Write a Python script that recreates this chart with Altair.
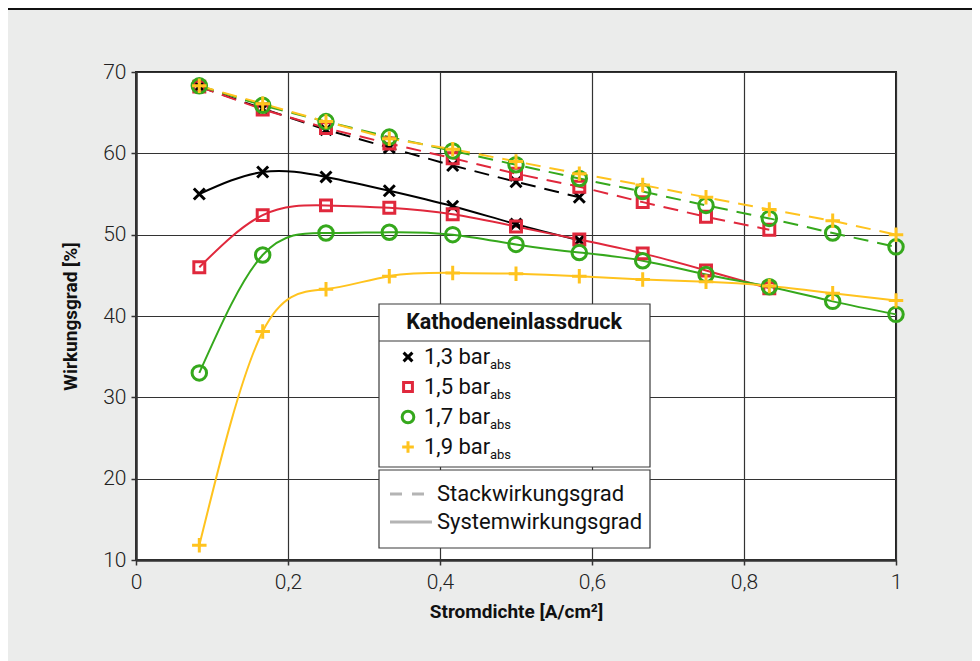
import altair as alt
import pandas as pd

# ---------------- data ----------------
x_vals = [0.0833, 0.1667, 0.25, 0.3333, 0.4167, 0.5, 0.5833, 0.6667, 0.75, 0.8333, 0.9167, 1.0]

series = ["1,3", "1,5", "1,7", "1,9"]
colors = ["#000000", "#e0283c", "#35a81c", "#ffc31e"]

sys_13 = [55.0, 57.7, 57.1, 55.4, 53.5, 51.3, 49.3]
stack_13 = [68.2, 65.5, 62.9, 60.7, 58.5, 56.5, 54.6]
sys_15 = [46.0, 52.4, 53.6, 53.3, 52.5, 51.0, 49.4, 47.7, 45.6, 43.4]
stack_15 = [68.2, 65.4, 63.1, 61.2, 59.4, 57.5, 55.9, 54.0, 52.2, 50.6]
sys_17 = [33.0, 47.5, 50.2, 50.3, 50.0, 48.8, 47.8, 46.8, 45.1, 43.6, 41.8, 40.2]
stack_17 = [68.3, 65.9, 63.9, 62.0, 60.3, 58.6, 56.9, 55.3, 53.6, 52.0, 50.2, 48.5]
sys_19 = [11.8, 38.1, 43.3, 44.9, 45.3, 45.2, 44.9, 44.5, 44.2, 43.7, 42.8, 41.9]
stack_19 = [68.3, 66.1, 63.9, 61.8, 60.5, 59.0, 57.5, 56.1, 54.6, 53.1, 51.7, 50.0]

sys_all = [sys_13, sys_15, sys_17, sys_19]
stack_all = [stack_13, stack_15, stack_17, stack_19]

rows = []
for i, s in enumerate(series):
    for j, v in enumerate(sys_all[i]):
        rows.append({"x": x_vals[j], "y": v, "s": s, "kind": "System", "o": i})
    for j, v in enumerate(stack_all[i]):
        rows.append({"x": x_vals[j], "y": v, "s": s, "kind": "Stack", "o": i})
df = pd.DataFrame(rows)

X_CROSS = "M-1,-1L1,1M1,-1L-1,1"
PLUS = "M-1,0L1,0M0,-1L0,1"
shapes = [X_CROSS, "square", "circle", PLUS]
sizes = [120, 120, 210, 210]

FONT = "Roboto, sans-serif"
LFONT = "Roboto, sans-serif"

xs = alt.Scale(domain=[0, 1], nice=False)
ys = alt.Scale(domain=[10, 70], nice=False)
col = alt.Color("s:N", scale=alt.Scale(domain=series, range=colors), legend=None)

X = alt.X("x:Q", scale=xs, title="Stromdichte [A/cm²]",
          axis=alt.Axis(values=[0, 0.2, 0.4, 0.6, 0.8, 1.0],
                        labelExpr="replace(format(datum.value, '~g'), '.', ',')"))
Y = alt.Y("y:Q", scale=ys, title="Wirkungsgrad [%]",
          axis=alt.Axis(values=[10, 20, 30, 40, 50, 60, 70]))

base = alt.Chart(df)

layers = []
for i, s in enumerate(series):
    d_sys = base.transform_filter(f"datum.s == '{s}' && datum.kind == 'System'")
    d_st = base.transform_filter(f"datum.s == '{s}' && datum.kind == 'Stack'")
    layers.append(d_st.mark_line(strokeWidth=2, strokeDash=[15, 9], interpolate="linear")
                  .encode(x=X, y=Y, color=col))
    layers.append(d_sys.mark_line(strokeWidth=2, interpolate="natural")
                  .encode(x=X, y=Y, color=col))
for i, s in enumerate(series):
    d_pts = base.transform_filter(f"datum.s == '{s}'")
    layers.append(d_pts.mark_point(shape=shapes[i], size=sizes[i], filled=False,
                                   strokeWidth=3, opacity=1)
                  .encode(x=X, y=Y, color=col))

# ---------------- legend (annotation, pixel positions) ----------------
one = pd.DataFrame({"a": [0]})
lb = alt.Chart(one)

def box(x1, x2, y1, y2):
    return lb.mark_rect(fill="white", stroke="#3a3a3a", strokeWidth=1.2).encode(
        x=alt.value(x1), x2=alt.value(x2), y=alt.value(y1), y2=alt.value(y2))

legend_layers = [
    box(243, 514, 232, 395),
    lb.mark_rule(color="#3a3a3a", strokeWidth=1.2).encode(
        x=alt.value(243), x2=alt.value(514), y=alt.value(269)),
    lb.mark_text(text="Kathodeneinlassdruck", font=FONT, fontWeight="bold",
                 fontSize=21.5, align="center", baseline="middle", color="#111").encode(
        x=alt.value(378), y=alt.value(251)),
    box(243, 514, 398, 476),
]
leg_y = [285, 315, 345, 375]
for i, s in enumerate(series):
    legend_layers.append(
        lb.mark_point(shape=shapes[i], size=sizes[i] * 0.65, filled=False, strokeWidth=3,
                      color=colors[i], opacity=1).encode(x=alt.value(272), y=alt.value(leg_y[i])))
    legend_layers.append(
        lb.mark_text(text=f"{s} bar", font=LFONT, fontSize=22, align="left",
                     baseline="middle", color="#111").encode(x=alt.value(288), y=alt.value(leg_y[i])))
    legend_layers.append(
        lb.mark_text(text="abs", font=FONT, fontSize=13, align="left",
                     baseline="middle", color="#111").encode(x=alt.value(354), y=alt.value(leg_y[i] + 8)))

legend_layers += [
    lb.mark_rule(color="#b4b4b4", strokeWidth=3, strokeDash=[12, 10]).encode(
        x=alt.value(254), x2=alt.value(296), y=alt.value(422)),
    lb.mark_rule(color="#b4b4b4", strokeWidth=3).encode(
        x=alt.value(254), x2=alt.value(296), y=alt.value(450)),
    lb.mark_text(text="Stackwirkungsgrad", font=LFONT, fontSize=22, align="left",
                 baseline="middle", color="#111").encode(x=alt.value(301), y=alt.value(422)),
    lb.mark_text(text="Systemwirkungsgrad", font=LFONT, fontSize=22, align="left",
                 baseline="middle", color="#111").encode(x=alt.value(301), y=alt.value(450)),
    # top rule of the figure frame
    lb.mark_rule(color="#111", strokeWidth=2).encode(
        x=alt.value(-136), x2=alt.value(844), y=alt.value(-63)),
]

chart = alt.layer(*layers, *legend_layers).properties(
    width=760, height=488,
    padding={"left": 128, "top": 64, "right": 76, "bottom": 101},
    autosize=alt.AutoSizeParams(type="none"),
    background="#ebeceb",
).configure_view(
    fill="white", stroke="#222", strokeWidth=2
).configure_axis(
    grid=True, gridColor="#333", gridWidth=1.2, gridOpacity=1,
    domainColor="#333", domainWidth=2.5,
    tickColor="#333", tickSize=5, tickWidth=1.5, labelFlush=False,
    labelFont=LFONT, labelFontSize=21, labelColor="#222", labelFontWeight=300,
    titleFont=FONT, titleFontSize=19, titleFontWeight="bold", titleColor="#111",
).configure_axisX(
    titlePadding=10, labelPadding=6
).configure_axisY(
    titlePadding=22, labelPadding=5
)

chart.save("out.html", embed_options={"renderer": "svg", "actions": False})
